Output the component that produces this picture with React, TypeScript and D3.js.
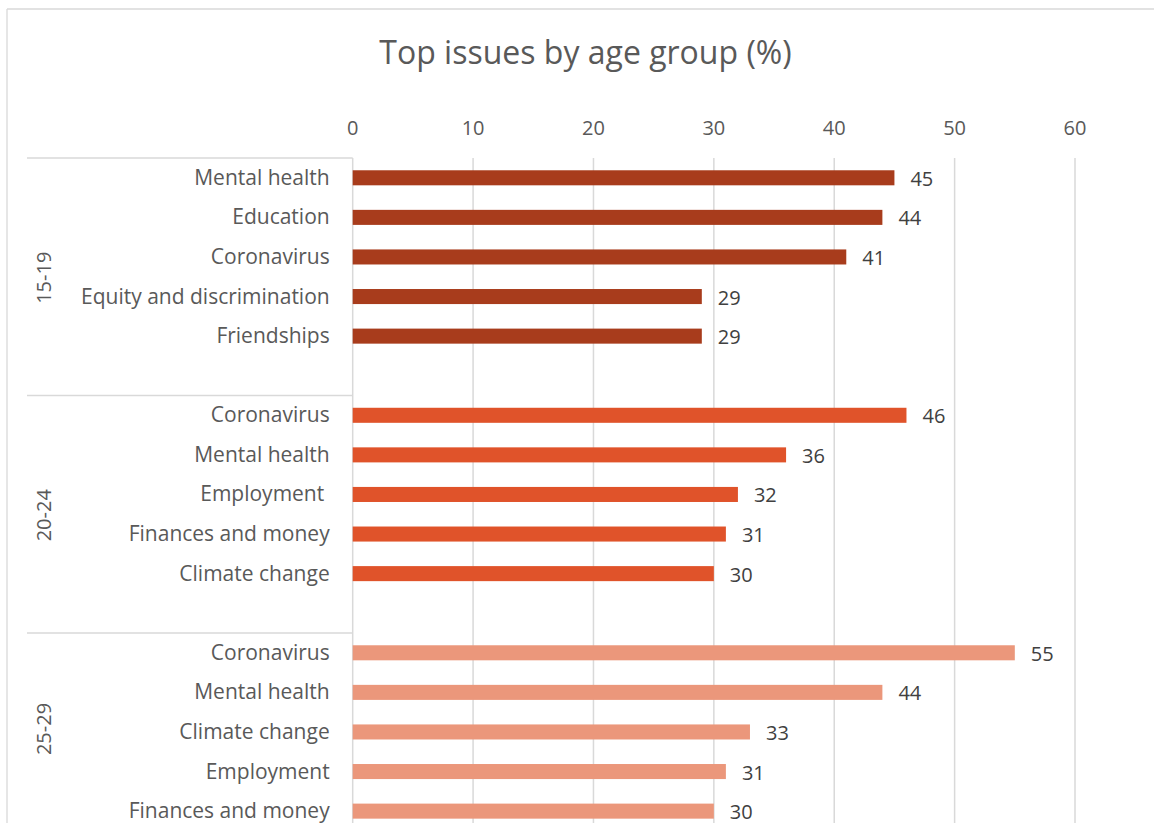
import React from "react";
import * as d3 from "d3";

const ageGroups = ["15-19", "20-24", "25-29"];
const issues1519 = ["Mental health", "Education", "Coronavirus", "Equity and discrimination", "Friendships"];
const values1519 = [45, 44, 41, 29, 29];
const issues2024 = ["Coronavirus", "Mental health", "Employment ", "Finances and money", "Climate change"];
const values2024 = [46, 36, 32, 31, 30];
const issues2529 = ["Coronavirus", "Mental health", "Climate change", "Employment", "Finances and money"];
const values2529 = [55, 44, 33, 31, 30];
const groupColors = ["#A83C1C", "#E0532A", "#EB977B"];
const xTicks = [0, 10, 20, 30, 40, 50, 60];
const titleText = "Top issues by age group (%)";

const W = 1154;
const H = 823;
const FONT = "'Open Sans', Lato, sans-serif";

export default function App() {
  const issues = [issues1519, issues2024, issues2529];
  const values = [values1519, values2024, values2529];
  const slotsPerGroup = 6;

  const plotTop = 158;
  const groupH = 237.5;
  const plotBottom = plotTop + groupH * ageGroups.length;
  const axisLeft = 352.7;
  const axisRight = 1075;

  const x = d3.scaleLinear().domain([0, 60]).range([axisLeft, axisRight]);

  const slotKeys: string[] = [];
  ageGroups.forEach((g) => {
    for (let i = 0; i < slotsPerGroup; i++) slotKeys.push(`${g}|${i}`);
  });
  const y = d3
    .scaleBand<string>()
    .domain(slotKeys)
    .range([plotTop, plotBottom])
    .paddingInner(0.62)
    .paddingOuter(0.31);

  const bars = ageGroups.flatMap((g, gi) =>
    issues[gi].map((name, i) => ({
      key: `${g}|${i}`,
      name,
      value: values[gi][i],
      color: groupColors[gi],
    }))
  );

  const step = y.step();
  const groupBounds = ageGroups.map((g) => {
    const top = (y(`${g}|0`) as number) - (step - y.bandwidth()) / 2;
    return { g, top, bottom: top + step * slotsPerGroup };
  });

  return (
    <svg
      width={W}
      height={H}
      style={{ position: "absolute", left: 0, top: 0, background: "#fff" }}
      fontFamily={FONT}
    >
      <rect x={0} y={0} width={W} height={H} fill="#fff" />
      {/* chart border */}
      <line x1={7} y1={9} x2={W + 5} y2={9} stroke="#d9d9d9" strokeWidth={1.3} />
      <line x1={7} y1={9} x2={7} y2={H + 5} stroke="#d9d9d9" strokeWidth={1.3} />

      <text x={585.5} y={64} textAnchor="middle" fontSize={32} fill="#595959">
        {titleText}
      </text>

      {/* gridlines */}
      {xTicks.map((t) => (
        <g key={t}>
          <line x1={x(t)} x2={x(t)} y1={plotTop} y2={plotBottom} stroke="#d9d9d9" strokeWidth={1.5} />
          <text x={x(t)} y={135} textAnchor="middle" fontSize={20} fill="#595959">
            {t}
          </text>
        </g>
      ))}

      {/* group separators */}
      {groupBounds.map((b, i) => (
        <line key={"sep" + i} x1={27} x2={axisLeft} y1={b.top} y2={b.top} stroke="#d9d9d9" strokeWidth={1.3} />
      ))}
      <line x1={27} x2={axisLeft} y1={plotBottom} y2={plotBottom} stroke="#d9d9d9" strokeWidth={1.3} />

      {/* group labels */}
      {groupBounds.map((b) => {
        const cy = (b.top + Math.min(b.bottom, H)) / 2;
        return (
          <text
            key={b.g}
            transform={`translate(43,${cy + 1}) rotate(-90)`}
            textAnchor="middle"
            dominantBaseline="central"
            fontSize={20}
            fill="#595959"
          >
            {b.g}
          </text>
        );
      })}

      {/* bars */}
      {bars.map((d) => {
        const by = y(d.key) as number;
        const cy = by + y.bandwidth() / 2;
        return (
          <g key={d.key}>
            <rect x={x(0)} y={by} width={x(d.value) - x(0)} height={y.bandwidth()} fill={d.color} />
            <text
              x={axisLeft - 23}
              y={cy + 7}
              textAnchor="end"
              fontSize={21}
              fill="#595959"
              style={{ whiteSpace: "pre" }}
            >
              {d.name}
            </text>
            <text x={x(d.value) + 16} y={cy + 8} fontSize={20} fill="#404040">
              {d.value}
            </text>
          </g>
        );
      })}
    </svg>
  );
}
